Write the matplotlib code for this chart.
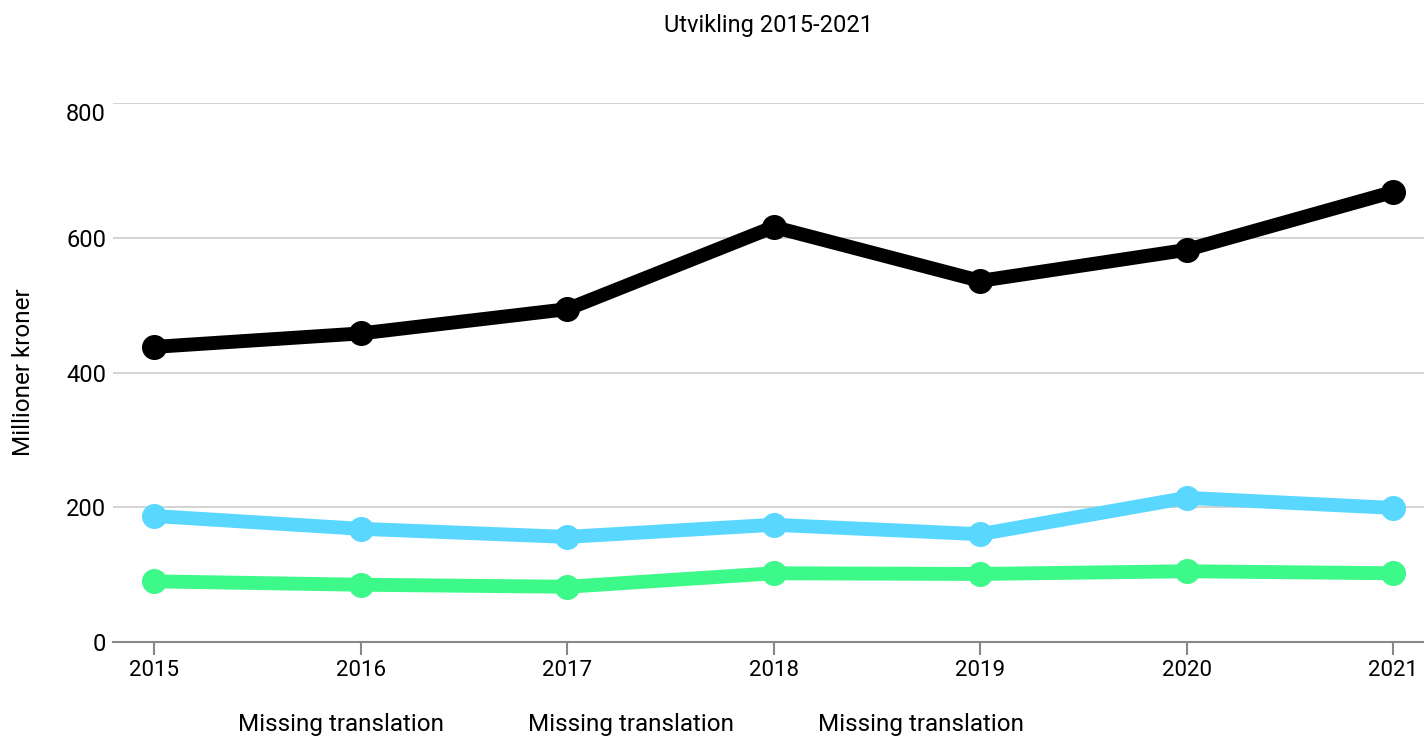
import matplotlib
matplotlib.use("Agg")
import matplotlib.pyplot as plt
from matplotlib.lines import Line2D

years = [2015, 2016, 2017, 2018, 2019, 2020, 2021]
series_black = [438, 458, 494, 616, 536, 582, 668]
series_blue = [187, 168, 156, 174, 160, 214, 199]
series_green = [90, 85, 82, 102, 101, 105, 102]
legend_labels = ["Missing translation", "Missing translation", "Missing translation"]
y_ticks = [0, 200, 400, 600, 800]

plt.rcParams['font.family'] = ['Roboto', 'DejaVu Sans']

fig = plt.figure(figsize=(14.24, 7.37), dpi=100)
ax = fig.add_axes([113/1424, 95/737, 1 - 113/1424, (642-103)/737])

colors = ["#000000", "#5AD7FF", "#3CF98A"]

for vals, c, z in [(series_black, colors[0], 3), (series_blue, colors[1], 2), (series_green, colors[2], 2)]:
    ax.plot(years, vals, color=c, lw=10, marker='o', markersize=17,
            solid_capstyle='round', solid_joinstyle='round', zorder=z, clip_on=False)

ax.set_xlim(2014.8, 2021.15)
ax.set_ylim(0, 800)
ax.set_xticks(years)
ax.set_xticklabels([str(y) for y in years])
ax.set_yticks(y_ticks)
ax.grid(axis='y', color='#cccccc', lw=1.2)
ax.set_axisbelow(True)
for s in ['top', 'right', 'left']:
    ax.spines[s].set_visible(False)
ax.spines['bottom'].set_color('#888888')
ax.spines['bottom'].set_linewidth(1.5)
ax.tick_params(axis='x', length=9, width=1.5, color='#888888', labelsize=16, pad=4)
ax.tick_params(axis='y', length=0, labelsize=17, pad=5)
ax.get_yticklabels()[-1].set_va('top')
ax.set_ylabel("Millioner kroner", fontsize=17.5, labelpad=22)

ax.set_title("Utvikling 2015-2021", fontsize=17, y=1.0, pad=51)

handles = [Line2D([], [], color='none') for _ in legend_labels]
fig.legend(handles, legend_labels, ncol=3, loc='lower center', bbox_to_anchor=(0.443, -0.029),
           frameon=False, handlelength=0, handletextpad=0, columnspacing=3.45, fontsize=17.5)

fig.savefig("out.png", dpi=100)
